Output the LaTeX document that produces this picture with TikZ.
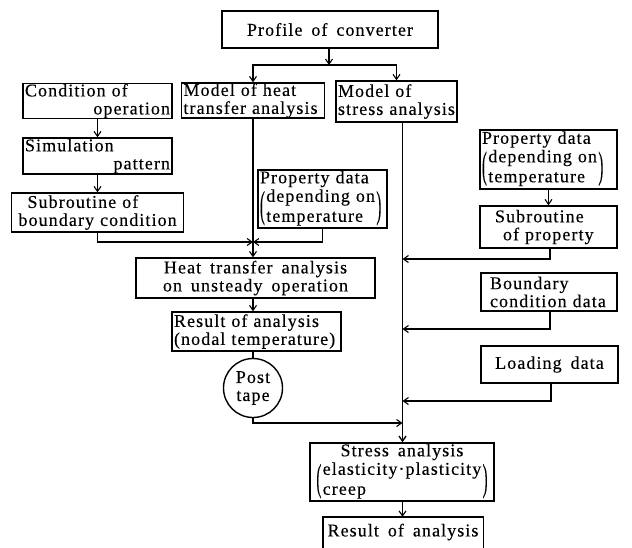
\documentclass[tikz,border=0pt]{standalone}
\usepackage{fontspec}
\usepackage{graphicx}
\setmainfont{Liberation Serif}[LetterSpace=6,WordSpace=1.6,FakeBold=0.3]
\usetikzlibrary{arrows.meta,calc}
\newcommand{\bigparen}[1]{\vcenter{\hbox{\scalebox{0.8}[2.1]{#1}}}}
\newcommand{\parenpair}[2]{$\bigparen{(}\kern1.5pt\begin{tabular}{@{}l@{}}#1\\[2pt]#2\end{tabular}\kern1.5pt\bigparen{)}$}
\begin{document}
\begin{tikzpicture}[x=1pt,y=-1pt,
  font=\fontsize{18}{18}\selectfont,
  bx/.style={draw, line width=1.4pt, inner xsep=2pt, inner ysep=0pt, align=left},
  ln/.style={line width=1.1pt},
  arr/.style={ln, -{Straight Barb[length=5pt,width=7pt]}},
]
\useasboundingbox (0,0) rectangle (632,547);

% boxes
\node[bx, align=center, minimum width=216pt, minimum height=37pt] (prof) at (330,29.5) {Profile of converter};
\node[bx, text width=139pt, minimum height=35pt] (mheat) at (253,100.5) {Model of heat\\transfer analysis};
\node[bx, text width=117pt, minimum height=41pt] (mstress) at (396.5,101.5) {Model of\\stress analysis};
\node[bx, text width=145pt, minimum height=34pt] (cond) at (97.5,101) {Condition of\\\hspace*{\fill}operation};
\node[bx, text width=145pt, minimum height=36pt] (sim) at (97.5,156) {Simulation\\\hspace*{\fill}pattern};
\node[bx, text width=168pt, minimum height=39pt] (subb) at (97.5,212.5) {\hspace*{14pt}Subroutine of\\\hspace*{5pt}boundary condition};
\node[bx, text width=125pt, minimum height=58pt] (prop1) at (322.5,199) {Property data\\[1pt]\parenpair{depending on}{temperature}};
\node[bx, align=center, minimum width=239pt, minimum height=40pt] (heat) at (255.5,278) {Heat transfer analysis\\on unsteady operation};
\node[bx, text width=165pt, minimum height=39pt] (res1) at (256.5,331.5) {Result of analysis\\(nodal temperature)};
\node[draw, circle, line width=1.4pt, inner sep=0pt, minimum size=59pt, align=center] (post) at (253,388) {Post\\tape};
\node[bx, text width=133pt, minimum height=59pt] (prop2) at (548.5,159.5) {Property data\\[1pt]\parenpair{depending on}{temperature}};
\node[bx, text width=133pt, minimum height=42pt] (subp) at (548.5,227) {\hspace*{13pt}Subroutine\\\hspace*{21pt}of property};
\node[bx, text width=132pt, minimum height=38pt] (bcd) at (549,292) {\hspace*{7pt}Boundary\\\hspace*{7pt}condition data};
\node[bx, align=center, inner xsep=0pt, minimum width=184pt, minimum height=58pt] (stress) at (402,472) {Stress analysis\\[1pt]\parenpair{elasticity·plasticity}{creep}};
\node[bx, align=center, minimum width=137pt, minimum height=37pt] (load) at (549.5,364.5) {Loading data};
\node[inner sep=0pt, minimum width=160pt, minimum height=30pt, align=center] (res2) at (403,532) {Result of analysis};
\draw[line width=1.4pt] (res2.south west) ++(0,20) |- (res2.north east) -- ++(0,50);

% spine coordinates
\coordinate (A) at (253,0);
\coordinate (B) at (402.5,0);
\coordinate (j0) at (329,65);
\coordinate (jh) at (253,242);
\coordinate (k1) at (550,259);
\coordinate (k2) at (550,329);
\coordinate (k3) at (551,401);
\coordinate (k4) at (253,423);

% connectors
\draw[arr] (prof.south -| j0) -- (j0);
\draw[arr] (j0) -| (mheat.north);
\draw[arr] (j0) -| (mstress.north);
\draw[arr] (cond.south) -- (sim.north);
\draw[arr] (sim.south) -- (subb.north);
\draw[arr] (subb.south) |- (jh);
\draw[arr] (prop1.south) |- (jh);
\draw[arr] (mheat.south) -- (A |- heat.north);
\draw[arr] (A |- heat.south) -- (A |- res1.north);
\draw[ln] (A |- res1.south) -- (post.north);
\draw[arr] (post.south) -- (k4) -- (B |- k4);
\draw[arr, line width=1.4pt] (B |- mstress.south) -- (B |- stress.north);
\draw[arr] (prop2.south) -- (subp.north);
\draw[arr] (subp.south -| k1) -- (k1) -- (B |- k1);
\draw[arr] (bcd.south -| k2) -- (k2) -- (B |- k2);
\draw[arr] (load.south -| k3) -- (k3) -- (B |- k3);
\draw[arr] (B |- stress.south) -- (B |- res2.north);
\end{tikzpicture}
\end{document}
